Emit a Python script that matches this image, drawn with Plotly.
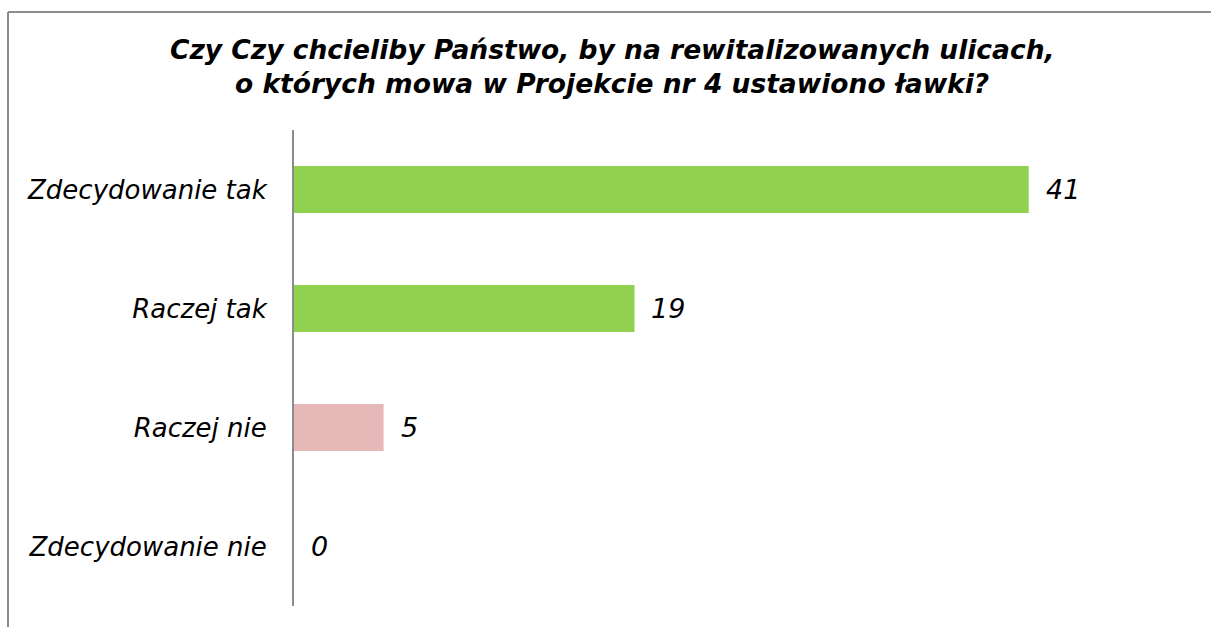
import plotly.graph_objects as go

categories = ["Zdecydowanie tak", "Raczej tak", "Raczej nie", "Zdecydowanie nie"]
values = [41, 19, 5, 0]
bar_colors = ["#92D050", "#92D050", "#E6B9B8", "#E6B9B8"]

title_lines = [
    "Czy Czy chcieliby Państwo, by na rewitalizowanych ulicach,",
    "o których mowa w Projekcie nr 4 ustawiono ławki?",
]

W, H = 1211, 627
ML, MR, MT, MB = 294, 21, 130, 21
PW, PH = W - ML - MR, H - MT - MB


def px_x(px):
    return (px - ML) / PW


def px_y(py):
    return (H - MB - py) / PH


fig = go.Figure()
fig.add_trace(go.Bar(
    y=categories,
    x=values,
    orientation="h",
    marker=dict(color=bar_colors, line=dict(width=0)),
    width=0.395,
    hoverinfo="skip",
))

for cat, val in zip(categories, values):
    fig.add_annotation(
        x=val, y=cat, text=str(val), showarrow=False,
        xanchor="left", xshift=15,
        font=dict(family="DejaVu Sans", size=27, color="#000000", style="italic"),
    )

# title, two centred lines
for i, line in enumerate(title_lines):
    fig.add_annotation(
        x=px_x(612), y=px_y(50 + 34 * i), xref="paper", yref="paper",
        text="<b><i>" + line + "</i></b>", showarrow=False,
        xanchor="center", yanchor="middle",
        font=dict(family="DejaVu Sans", size=26.5, color="#000000"),
    )

# outer chart frame (top and left edges)
frame = dict(color="#8C8C8C", width=2)
fig.add_shape(type="line", xref="paper", yref="paper",
              x0=px_x(8), x1=px_x(1215), y0=px_y(12), y1=px_y(12), line=frame)
fig.add_shape(type="line", xref="paper", yref="paper",
              x0=px_x(8), x1=px_x(8), y0=px_y(12), y1=px_y(630), line=frame)

fig.update_layout(
    width=W, height=H,
    margin=dict(l=ML, r=MR, t=MT, b=MB, pad=0),
    paper_bgcolor="#FFFFFF", plot_bgcolor="#FFFFFF",
    showlegend=False,
    bargap=0.6,
)
fig.update_xaxes(range=[0, 50], visible=False, showgrid=False, zeroline=False)
fig.update_yaxes(
    autorange="reversed",
    showline=True, linecolor="#8C8C8C", linewidth=2,
    showgrid=False, zeroline=False,
    ticks="", ticklabelstandoff=20,
    tickfont=dict(family="DejaVu Sans", size=26, color="#000000", style="italic"),
)

fig.write_html("out.html")
